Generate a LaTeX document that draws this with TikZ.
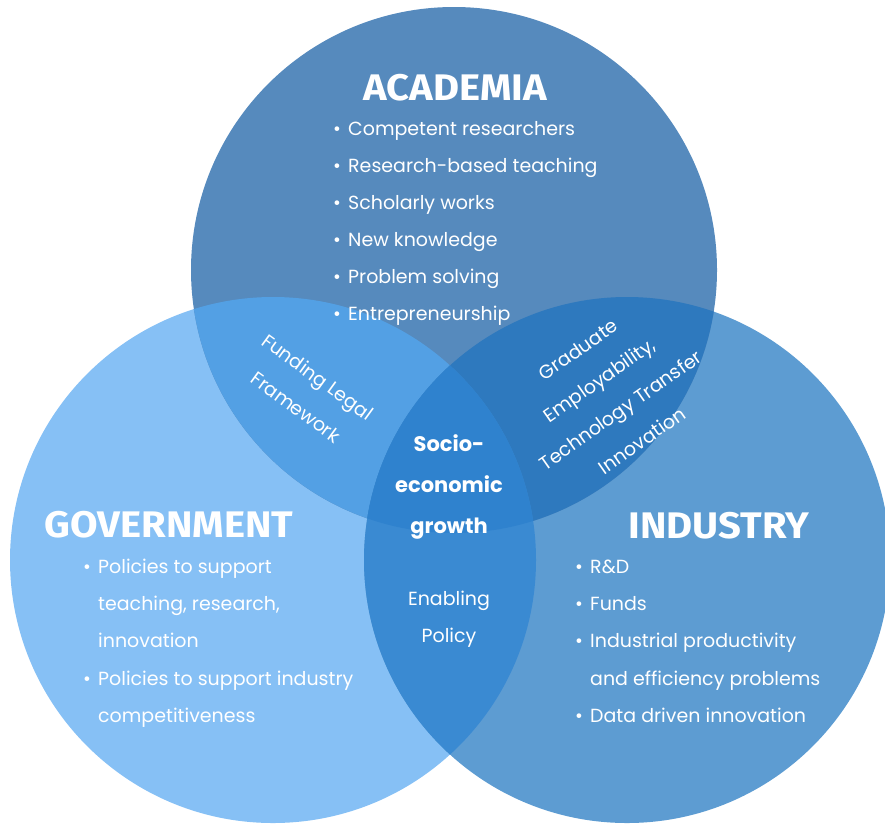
\documentclass[tikz,border=0pt]{standalone}
\usepackage{fontspec}
\setmainfont{Poppins}
\newfontfamily\headfont{Fira Sans}[FakeStretch=1.08]
\usetikzlibrary{positioning}
\definecolor{acablue}{RGB}{86,138,189}
\definecolor{govblue}{RGB}{134,192,245}
\definecolor{indblue}{RGB}{93,156,210}
\definecolor{agblue}{RGB}{83,160,228}
\definecolor{aiblue}{RGB}{46,121,190}
\definecolor{giblue}{RGB}{58,138,210}
\definecolor{midblue}{RGB}{47,130,206}
\newcommand{\bul}{\makebox[15pt][l]{\textbullet}}

\begin{document}
\begin{tikzpicture}[x=1pt, y=-1pt,
    head/.style={text=white, inner sep=0pt, font=\headfont\bfseries\fontsize{37}{37}\selectfont},
    itemtxt/.style={text=white, anchor=west, inner sep=0pt, text height=13pt, text depth=4pt, font=\fontsize{19}{22}\selectfont},
    lens/.style={text=white, align=center, inner sep=0pt, font=\fontsize{19}{37}\selectfont}]
    \useasboundingbox (0,0) rectangle (885,825);
    % Circles
    \def\rad{263pt}
    \coordinate (A) at (454,270);
    \coordinate (G) at (273,560);
    \coordinate (I) at (627,560);
    \fill[govblue] (G) circle (\rad);
    \fill[indblue] (I) circle (\rad);
    \fill[acablue] (A) circle (\rad);
    % Overlaps
    \begin{scope}
        \clip (A) circle (\rad);
        \fill[agblue] (G) circle (\rad);
        \fill[aiblue] (I) circle (\rad);
    \end{scope}
    \begin{scope}
        \clip (G) circle (\rad);
        \fill[giblue] (I) circle (\rad);
        \clip (A) circle (\rad);
        \fill[midblue] (I) circle (\rad);
    \end{scope}

    % Academia
    \node[head] (acahead) at (455,88) {ACADEMIA};
    \foreach \txt [count=\i] in {Competent researchers, Research-based teaching, Scholarly works, New knowledge, Problem solving, Entrepreneurship}
        \node[itemtxt] (aca\i) at (333,94+37*\i) {\bul\txt};

    % Government
    \node[head] (govhead) at (169,525) {GOVERNMENT};
    \node[itemtxt] (gov1) at (83,569) {\bul Policies to support};
    \node[itemtxt] (gov2) at (98,606) {teaching, research,};
    \node[itemtxt] (gov3) at (98,643) {innovation};
    \node[itemtxt] (gov4) at (83,681) {\bul Policies to support industry};
    \node[itemtxt] (gov5) at (98,718) {competitiveness};

    % Industry
    \node[head] (indhead) at (719,526) {INDUSTRY};
    \node[itemtxt] (ind1) at (575,569) {\bul R\&D};
    \node[itemtxt] (ind2) at (575,606) {\bul Funds};
    \node[itemtxt] (ind3) at (575,643) {\bul Industrial productivity};
    \node[itemtxt] (ind4) at (590,681) {and efficiency problems};
    \node[itemtxt] (ind5) at (575,718) {\bul Data driven innovation};

    % Overlap labels
    \node[lens, rotate=-36] (funding) at (307,392) {Funding Legal\\Framework};
    \node[lens, rotate=35] (gradu) at (610,395) {Graduate\\Employability,\\Technology Transfer\\Innovation};
    \node[lens, font=\bfseries\fontsize{21}{41}\selectfont] (growth) at (449,487) {Socio-\\economic\\growth};
    \node[lens] (policy) at (449,619) {Enabling\\Policy};
\end{tikzpicture}
\end{document}
